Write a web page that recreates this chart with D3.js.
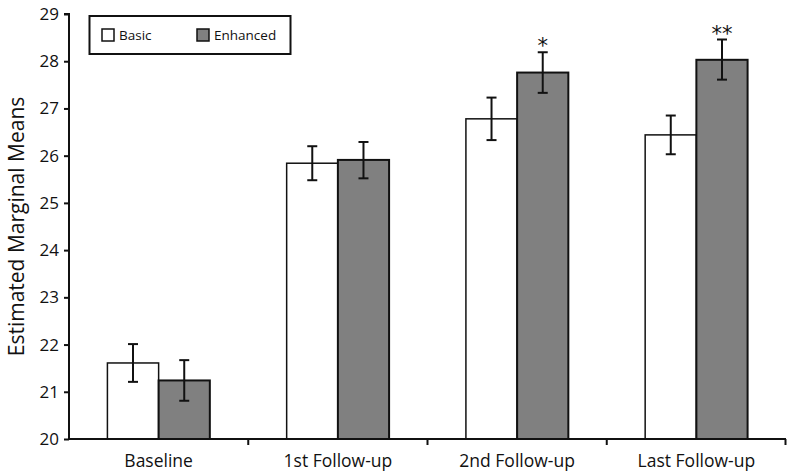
<!DOCTYPE html>
<html>
<head>
<meta charset="utf-8">
<script src="https://cdn.jsdelivr.net/npm/d3@7"></script>
<style>
  body { margin: 0; background: #fff; }
  svg { display: block; }
  text { font-family: "Open Sans", "Noto Sans", sans-serif; fill: #111; }
</style>
</head>
<body>
<svg id="chart" width="787" height="472"></svg>
<script>
const categories = ["Baseline", "1st Follow-up", "2nd Follow-up", "Last Follow-up"];
const seriesNames = ["Basic", "Enhanced"];
const basicMeans = [21.61, 25.84, 26.78, 26.44];
const basicLow   = [21.21, 25.48, 26.33, 26.03];
const basicHigh  = [22.01, 26.20, 27.23, 26.85];
const enhancedMeans = [21.24, 25.91, 27.76, 28.03];
const enhancedLow   = [20.81, 25.52, 27.33, 27.61];
const enhancedHigh  = [21.67, 26.29, 28.19, 28.46];
const significance = ["", "", "*", "**"];
const yTicks = [20, 21, 22, 23, 24, 25, 26, 27, 28, 29];
const yTitle = "Estimated Marginal Means";

const svg = d3.select("#chart");
const margin = { left: 69, right: 1, top: 14, bottom: 33 };
const W = 787, H = 472;
const x0 = d3.scaleBand().domain(categories).range([margin.left, W - margin.right]).paddingInner(0).paddingOuter(0);
const x1 = d3.scaleBand().domain(seriesNames).range([0, x0.bandwidth()]).paddingInner(0).paddingOuter(0.75);
const y = d3.scaleLinear().domain([20, 29]).range([H - margin.bottom, margin.top]);

const colors = { Basic: "#ffffff", Enhanced: "#808080" };
const strokeW = { Basic: 1.5, Enhanced: 2 };

const data = categories.map((c, i) => ({
  cat: c,
  sig: significance[i],
  vals: [
    { s: "Basic", m: basicMeans[i], lo: basicLow[i], hi: basicHigh[i] },
    { s: "Enhanced", m: enhancedMeans[i], lo: enhancedLow[i], hi: enhancedHigh[i] }
  ]
}));

const groups = svg.selectAll("g.cat").data(data).join("g")
  .attr("class", "cat")
  .attr("transform", d => `translate(${x0(d.cat)},0)`);

groups.selectAll("rect").data(d => d.vals).join("rect")
  .attr("x", d => x1(d.s))
  .attr("y", d => y(d.m))
  .attr("width", x1.bandwidth())
  .attr("height", d => y(20) - y(d.m))
  .attr("fill", d => colors[d.s])
  .attr("stroke", "#111")
  .attr("stroke-width", d => strokeW[d.s]);

// error bars
const capW = 10;
groups.each(function(d) {
  const g = d3.select(this);
  d.vals.forEach(v => {
    const cx = x1(v.s) + x1.bandwidth() / 2;
    g.append("line").attr("x1", cx).attr("x2", cx).attr("y1", y(v.lo)).attr("y2", y(v.hi))
      .attr("stroke", "#111").attr("stroke-width", 2);
    [v.lo, v.hi].forEach(e => {
      g.append("line").attr("x1", cx - capW / 2).attr("x2", cx + capW / 2).attr("y1", y(e)).attr("y2", y(e))
        .attr("stroke", "#111").attr("stroke-width", 2);
    });
  });
  if (d.sig) {
    const ev = d.vals[1];
    g.append("text")
      .attr("x", x1(ev.s) + x1.bandwidth() / 2)
      .attr("y", y(ev.hi) + 1)
      .attr("text-anchor", "middle")
      .style("font-family", "DejaVu Sans, sans-serif")
      .style("font-size", "21px")
      .text(d.sig);
  }
});

// Y axis
const yAxis = d3.axisLeft(y).tickValues(yTicks).tickSize(5).tickPadding(5).tickFormat(d3.format("d"));
const yg = svg.append("g").attr("transform", `translate(${margin.left},0)`).call(yAxis);
yg.select(".domain").attr("stroke", "#111").attr("stroke-width", 2).attr("d", `M-5,${y(29)}H0V${y(20)}`);
yg.selectAll(".tick line").attr("stroke", "#111").attr("stroke-width", 2);
yg.selectAll(".tick text").style("font-size", "17px").attr("fill", "#111");

// X axis
const xg = svg.append("g").attr("transform", `translate(0,${y(20)})`);
xg.append("line").attr("x1", margin.left).attr("x2", W - margin.right).attr("y1", 0).attr("y2", 0)
  .attr("stroke", "#111").attr("stroke-width", 2);
xg.selectAll("line.tk").data(categories.slice(1).map(c => x0(c)).concat([x0.range()[1] - 0.5])).join("line")
  .attr("class", "tk")
  .attr("x1", d => d).attr("x2", d => d).attr("y1", 0).attr("y2", 6)
  .attr("stroke", "#111").attr("stroke-width", 2);
xg.selectAll("text").data(categories).join("text")
  .attr("x", d => x0(d) + x0.bandwidth() / 2)
  .attr("y", 27.5)
  .attr("text-anchor", "middle")
  .style("font-size", "17.5px")
  .text(d => d);

// Y title
svg.append("text")
  .attr("transform", `translate(24,${(y(20) + y(29)) / 2}) rotate(-90)`)
  .attr("text-anchor", "middle")
  .style("font-size", "21px")
  .text(yTitle);

// Legend
const lg = svg.append("g");
lg.append("rect").attr("x", 89.5).attr("y", 16).attr("width", 201).attr("height", 38)
  .attr("fill", "#fff").attr("stroke", "#111").attr("stroke-width", 2);
const legendX = { Basic: 102, Enhanced: 197 };
seriesNames.forEach(s => {
  lg.append("rect").attr("x", legendX[s]).attr("y", 29).attr("width", 12).attr("height", 12)
    .attr("fill", colors[s]).attr("stroke", "#111").attr("stroke-width", 1.5);
  lg.append("text").attr("x", legendX[s] + 17).attr("y", 40).style("font-size", "13.5px").text(s);
});
</script>
</body>
</html>
